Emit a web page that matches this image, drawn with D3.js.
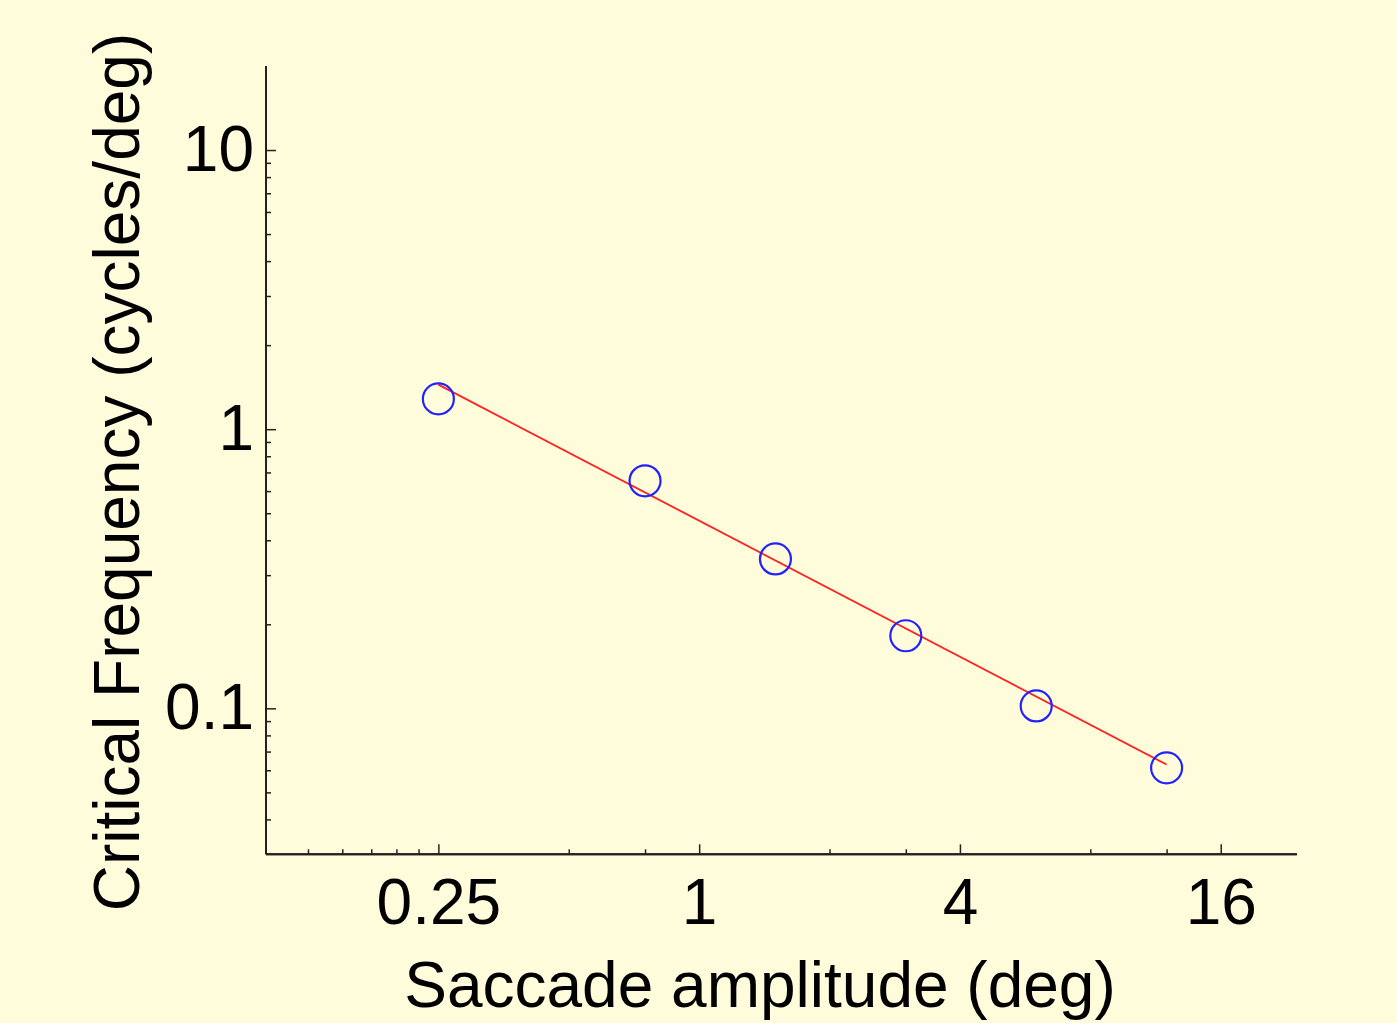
<!DOCTYPE html>
<html><head><meta charset="utf-8">
<script src="https://cdn.jsdelivr.net/npm/d3@7"></script>
<style>
html,body{margin:0;padding:0;background:#fffcdc;}
svg{display:block;}
text{font-family:"Liberation Sans",Arial,sans-serif;fill:#000;}
</style></head>
<body>
<svg id="chart" width="1397" height="1023"></svg>
<script>
// Data
const amplitude = [0.25, 0.75, 1.5, 3, 6, 12];
const critFreq = [1.284, 0.653, 0.343, 0.182, 0.102, 0.0612];
const fitX = [0.25, 12];
const fitY = [1.444, 0.0629];
const xMajorTicks = [0.25, 1, 4, 16];
const xMinorTicks = [0.125, 0.15, 0.175, 0.2, 0.225, 0.5, 0.75, 2, 3, 8, 12];
const yMajorTicks = [0.1, 1, 10];
const yMinorTicks = [0.04,0.05,0.06,0.07,0.08,0.09,0.2,0.3,0.4,0.5,0.6,0.7,0.8,0.9,2,3,4,5,6,7,8,9];
const xTitle = "Saccade amplitude (deg)";
const yTitle = "Critical Frequency (cycles/deg)";

(function(){
const svg = d3.select("#chart");
svg.append("rect").attr("width",1397).attr("height",1023).attr("fill","#fffcdc");

const pLeft = 266, pRight = 1297, pTop = 66, pBottom = 854.3;
const x = d3.scaleLog().base(2).domain([0.1, 24]).range([pLeft, pRight]);
const y = d3.scaleLog().domain([0.03, 20]).range([pBottom, pTop]);
const FS = 64;

const fmt = d => (d === 0.25 ? "0.25" : d === 0.1 ? "0.1" : String(d));

// X axis
const gx = svg.append("g").attr("transform", `translate(0,${pBottom})`);
gx.call(d3.axisBottom(x).tickValues(xMinorTicks).tickSize(-5).tickFormat(""));
gx.append("g").call(d3.axisBottom(x).tickValues(xMajorTicks).tickSize(-10).tickPadding(24).tickFormat(fmt));
gx.selectAll(".domain").attr("d", `M${pLeft},0H${pRight}`);

// Y axis
const gy = svg.append("g").attr("transform", `translate(${pLeft},0)`);
gy.call(d3.axisLeft(y).tickValues(yMinorTicks).tickSize(-5).tickFormat(""));
gy.append("g").call(d3.axisLeft(y).tickValues(yMajorTicks).tickSize(-10).tickPadding(12).tickFormat(fmt));
gy.selectAll(".domain").attr("d", `M0,${pTop}V${pBottom}`);

svg.selectAll(".domain").attr("stroke","#222").attr("stroke-width",2);
svg.selectAll(".tick line").attr("stroke","#222").attr("stroke-width",1.5);
svg.selectAll(".tick text").attr("font-size",FS).attr("font-family","Liberation Sans, Arial, sans-serif").attr("fill","#000");

// Fit line
svg.append("path")
  .datum(fitX.map((v,i)=>[v, fitY[i]]))
  .attr("d", d3.line().x(d=>x(d[0])).y(d=>y(d[1])))
  .attr("stroke","#ff2020").attr("stroke-width",1.8).attr("fill","none");

// Points
svg.append("g").selectAll("circle")
  .data(amplitude.map((v,i)=>[v, critFreq[i]]))
  .join("circle")
  .attr("cx", d=>x(d[0])).attr("cy", d=>y(d[1]))
  .attr("r", 15.5)
  .attr("fill","none").attr("stroke","#2222ff").attr("stroke-width",2.2);

// Titles
svg.append("text").attr("x",760).attr("y",1007).attr("text-anchor","middle")
  .attr("font-size",FS).text(xTitle);
svg.append("text").attr("transform","translate(139,472) rotate(-90)").attr("text-anchor","middle")
  .attr("font-size",FS).text(yTitle);
})();
</script>
</body></html>
